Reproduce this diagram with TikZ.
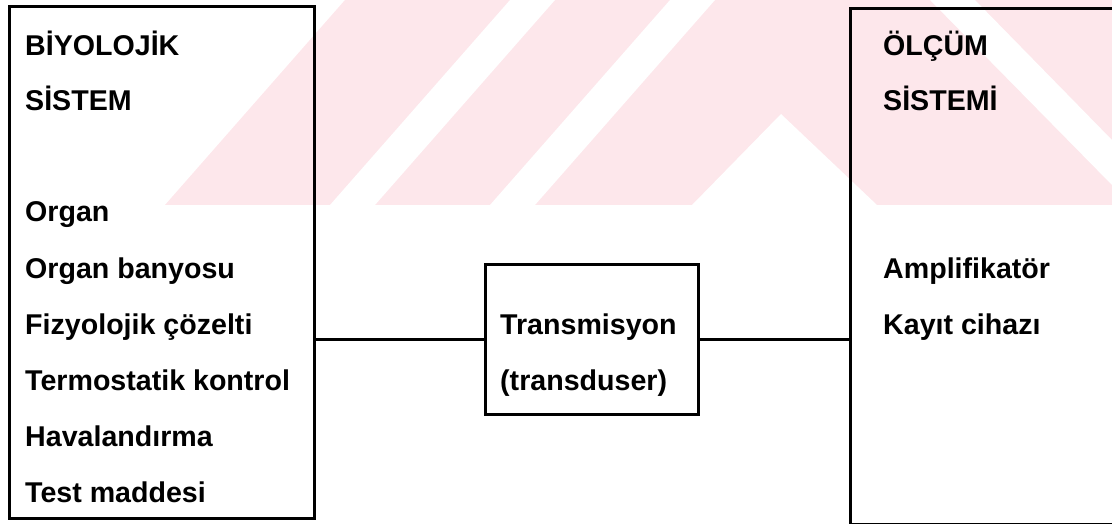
\documentclass[tikz,border=0pt]{standalone}
\usepackage{fontspec}
\setmainfont{Liberation Sans}
\definecolor{wm}{RGB}{253,231,235}
\tikzset{
  box/.style={draw, line width=2.6pt, inner sep=0pt, anchor=north west},
  lbl/.style={anchor=base west, inner sep=0pt, font=\bfseries\fontsize{28.6}{30}\selectfont},
  wire/.style={line width=2.6pt},
  stripe/.style={fill=white}
}
\begin{document}
\begin{tikzpicture}[x=1pt,y=1pt]
\useasboundingbox (0,0) rectangle (1112,-524);
\clip (0,0) rectangle (1112,-524);
% watermark
\fill[wm] (165,-205) -- (345,0) -- (1112,0) -- (1112,-205) -- cycle;
\foreach \x in {330,490} {
  \fill[stripe] (\x,-205) -- (\x+180,0) -- (\x+225,0) -- (\x+45,-205) -- cycle;
}
\fill[stripe] (692,-205) -- (781,-114) -- (877,-205) -- cycle;
\fill[stripe] (930,0) -- (975,0) -- (1112,-140) -- (1112,-185) -- cycle;
% boxes
\node[box, minimum width=305pt, minimum height=512pt] (bio) at (8,-5) {};
\node[box, minimum width=213pt, minimum height=150pt] (trans) at (484,-263) {};
\node[box, minimum width=320pt, minimum height=516pt] (meas) at (849,-7) {};
% connectors
\draw[wire] (trans.west) -- (trans.west -| bio.east);
\draw[wire] (trans.east) -- (trans.east -| meas.west);
% left texts
\node[lbl] (b1) at (25,-56) {BİYOLOJİK};
\node[lbl] (b2) at (25,-111) {SİSTEM};
\node[lbl] (b3) at (25,-222) {Organ};
\node[lbl] (b4) at (25,-278) {Organ banyosu};
\node[lbl] (b5) at (25,-334) {Fizyolojik çözelti};
\node[lbl] (b6) at (25,-390) {Termostatik kontrol};
\node[lbl] (b7) at (25,-446) {Havalandırma};
\node[lbl] (b8) at (25,-502) {Test maddesi};
% transducer texts
\node[lbl] (c1) at (500,-334) {Transmisyon};
\node[lbl] (c2) at (500,-390) {(transduser)};
% right texts
\node[lbl] (m1) at (883,-56) {ÖLÇÜM};
\node[lbl] (m2) at (883,-111) {SİSTEMİ};
\node[lbl] (m3) at (883,-278) {Amplifikatör};
\node[lbl] (m4) at (883,-334) {Kayıt cihazı};
\end{tikzpicture}
\end{document}
